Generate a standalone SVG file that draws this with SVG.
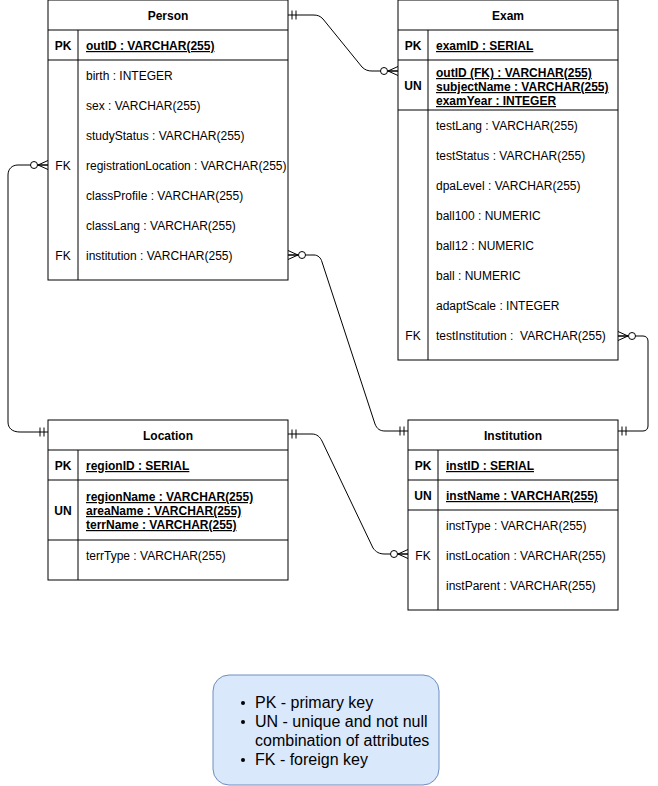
<svg xmlns="http://www.w3.org/2000/svg" width="658" height="786" viewBox="0 0 658 786">
<style>
.box{fill:#fff;stroke:#000;stroke-width:1}
.ln{stroke:#000;stroke-width:1;fill:none}
.t{font-family:"Liberation Sans",Arial,sans-serif;font-size:12px;fill:#000}
.b{font-weight:bold}
.u{text-decoration:underline}
.m{text-anchor:middle}
.leg{font-family:"Liberation Sans",Arial,sans-serif;font-size:16px;fill:#000}
</style>
<defs>
<marker id="one" markerUnits="userSpaceOnUse" markerWidth="20" markerHeight="20" viewBox="-20 -10 20 20" refX="0" refY="0" orient="auto-start-reverse" overflow="visible">
<path d="M-4,-4.5V4.5M-8,-4.5V4.5" stroke="#000" stroke-width="1" fill="none"/>
</marker>
<marker id="many" markerUnits="userSpaceOnUse" markerWidth="20" markerHeight="20" viewBox="-20 -10 20 20" refX="0" refY="0" orient="auto-start-reverse" overflow="visible">
<path d="M-10,0L0,-4.5M-10,0L0,4.5M-10,0H0" stroke="#000" stroke-width="1" fill="none"/>
<circle cx="-14" cy="0" r="3.5" fill="#fff" stroke="#000" stroke-width="1"/>
</marker>
</defs>
<rect width="658" height="786" fill="#fff"/>

<g id="connectors">
<path class="ln" marker-start="url(#one)" marker-end="url(#many)" d="M288,15 H313 C318,15 320,16 323,19 L362,67 C365,70 368,71 372,71 H398"/>
<path class="ln" marker-start="url(#many)" marker-end="url(#one)" d="M48,165 H18 C12,165 8,169 8,175 V422 C8,428 12,432 20,432 H48"/>
<path class="ln" marker-start="url(#many)" marker-end="url(#one)" d="M288,255 H314 C318,255 321,258 322,262 L375,424 C377,429 380,431 385,431 H408"/>
<path class="ln" marker-start="url(#many)" marker-end="url(#one)" d="M618,336 H643 C646,336 648,338 648,341 V426 C648,429 646,431 643,431 H618"/>
<path class="ln" marker-start="url(#one)" marker-end="url(#many)" d="M288,434 H312 C317,434 320,437 322,441 L373,548 C376,552 379,554 385,554 H408"/>
</g>

<g id="person">
<rect class="box" x="48" y="0" width="240" height="280"/>
<path class="ln" d="M48,30H288M48,60H288M78,30V280"/>
<text class="t b m" x="168" y="20">Person</text>
<text class="t b m" x="63" y="50">PK</text>
<text class="t b u" x="86" y="50">outID : VARCHAR(255)</text>
<text class="t" x="86" y="80">birth : INTEGER</text>
<text class="t" x="86" y="110">sex : VARCHAR(255)</text>
<text class="t" x="86" y="140">studyStatus : VARCHAR(255)</text>
<text class="t m" x="63" y="170">FK</text>
<text class="t" x="86" y="170">registrationLocation : VARCHAR(255)</text>
<text class="t" x="86" y="200">classProfile : VARCHAR(255)</text>
<text class="t" x="86" y="230">classLang : VARCHAR(255)</text>
<text class="t m" x="63" y="260">FK</text>
<text class="t" x="86" y="260">institution : VARCHAR(255)</text>
</g>

<g id="exam">
<rect class="box" x="398" y="0" width="220" height="360"/>
<path class="ln" d="M398,30H618M398,60H618M398,110H618M428,30V360"/>
<text class="t b m" x="508" y="20">Exam</text>
<text class="t b m" x="413" y="50">PK</text>
<text class="t b u" x="436" y="50">examID : SERIAL</text>
<text class="t b m" x="413" y="90">UN</text>
<text class="t b u" x="436" y="77">outID (FK) : VARCHAR(255)</text>
<text class="t b u" x="436" y="91">subjectName : VARCHAR(255)</text>
<text class="t b u" x="436" y="105">examYear : INTEGER</text>
<text class="t" x="436" y="130">testLang : VARCHAR(255)</text>
<text class="t" x="436" y="160">testStatus : VARCHAR(255)</text>
<text class="t" x="436" y="190">dpaLevel : VARCHAR(255)</text>
<text class="t" x="436" y="220">ball100 : NUMERIC</text>
<text class="t" x="436" y="250">ball12 : NUMERIC</text>
<text class="t" x="436" y="280">ball : NUMERIC</text>
<text class="t" x="436" y="310">adaptScale : INTEGER</text>
<text class="t m" x="413" y="340">FK</text>
<text class="t" x="436" y="340" style="white-space:pre">testInstitution :  VARCHAR(255)</text>
</g>

<g id="location">
<rect class="box" x="48" y="420" width="240" height="160"/>
<path class="ln" d="M48,450H288M48,480H288M48,540H288M78,450V580"/>
<text class="t b m" x="168" y="440">Location</text>
<text class="t b m" x="63" y="470">PK</text>
<text class="t b u" x="86" y="470">regionID : SERIAL</text>
<text class="t b m" x="63" y="515">UN</text>
<text class="t b u" x="86" y="501">regionName : VARCHAR(255)</text>
<text class="t b u" x="86" y="515">areaName : VARCHAR(255)</text>
<text class="t b u" x="86" y="529">terrName : VARCHAR(255)</text>
<text class="t" x="86" y="560">terrType : VARCHAR(255)</text>
</g>

<g id="institution">
<rect class="box" x="408" y="420" width="210" height="190"/>
<path class="ln" d="M408,450H618M408,480H618M408,510H618M438,450V610"/>
<text class="t b m" x="513" y="440">Institution</text>
<text class="t b m" x="423" y="470">PK</text>
<text class="t b u" x="446" y="470">instID : SERIAL</text>
<text class="t b m" x="423" y="500">UN</text>
<text class="t b u" x="446" y="500">instName : VARCHAR(255)</text>
<text class="t" x="446" y="530">instType : VARCHAR(255)</text>
<text class="t m" x="423" y="560">FK</text>
<text class="t" x="446" y="560">instLocation : VARCHAR(255)</text>
<text class="t" x="446" y="590">instParent : VARCHAR(255)</text>
</g>

<g id="legend">
<rect x="213" y="675" width="226" height="110" rx="16" ry="16" fill="#dae8fc" stroke="#6c8ebf" stroke-width="1"/>
<circle cx="243" cy="703" r="2" fill="#000"/>
<circle cx="243" cy="722" r="2" fill="#000"/>
<circle cx="243" cy="760" r="2" fill="#000"/>
<text class="leg" x="255" y="708">PK - primary key</text>
<text class="leg" x="255" y="727">UN - unique and not null</text>
<text class="leg" x="255" y="746">combination of attributes</text>
<text class="leg" x="255" y="765">FK - foreign key</text>
</g>
</svg>
